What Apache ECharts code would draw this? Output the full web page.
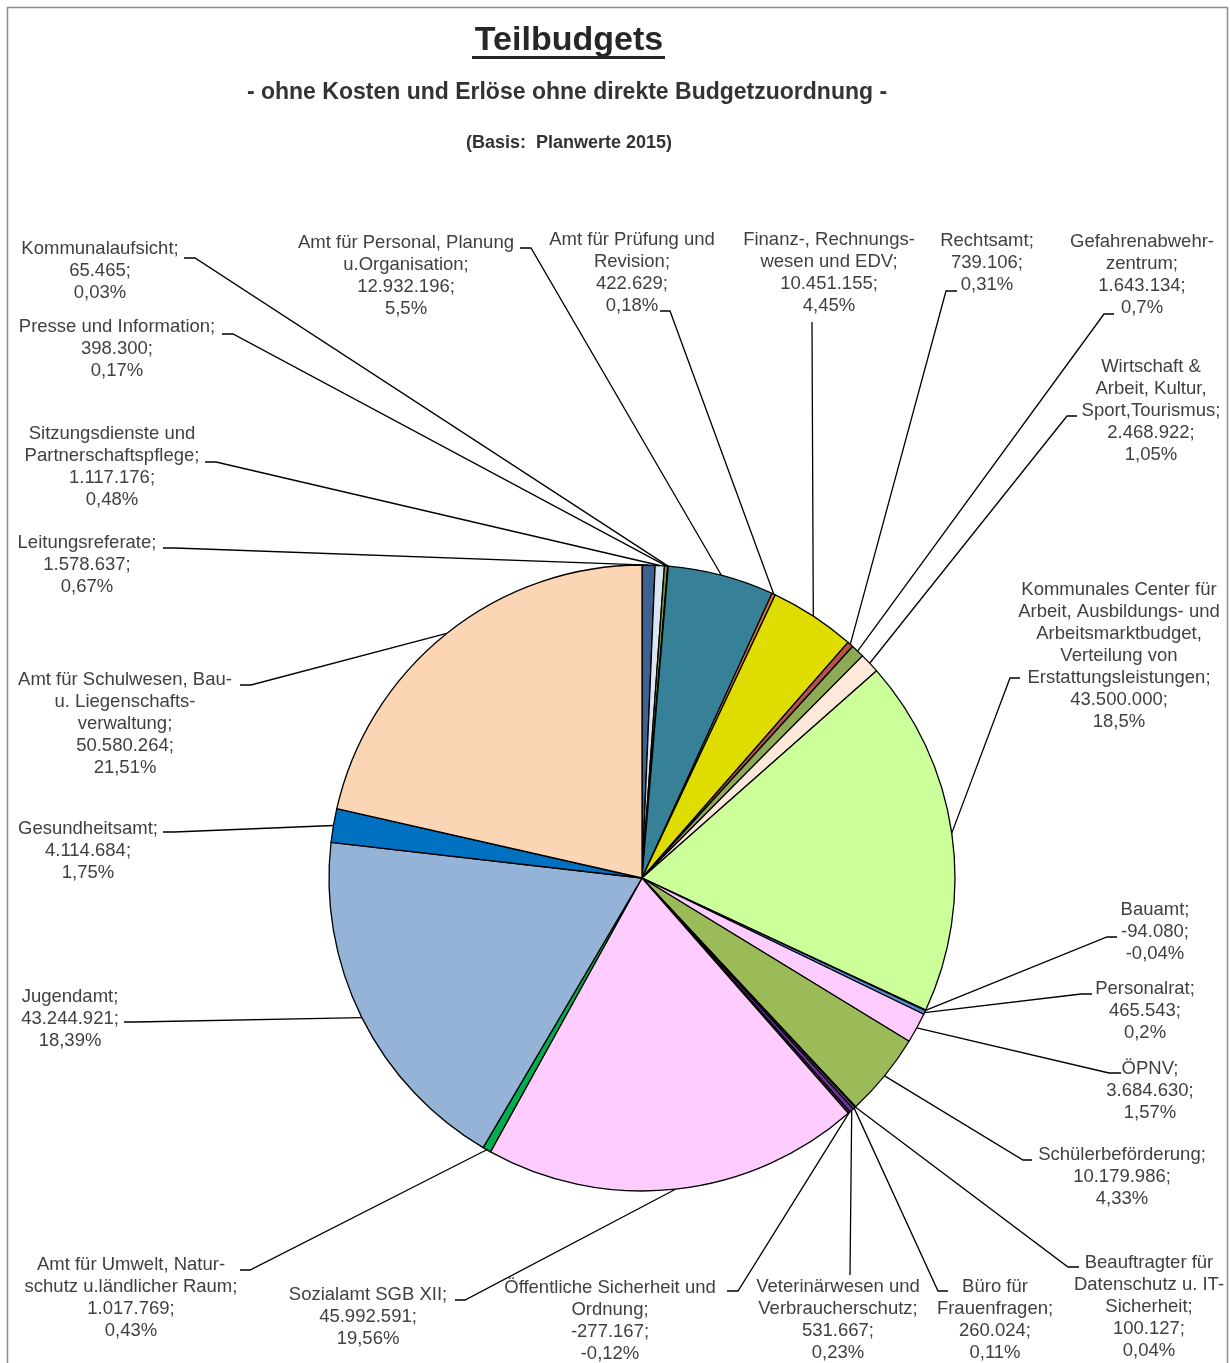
<!DOCTYPE html>
<html>
<head>
<meta charset="utf-8">
<title>Teilbudgets</title>
<script src="https://cdn.jsdelivr.net/npm/echarts@6/dist/echarts.min.js"></script>
<style>
  html, body { margin: 0; padding: 0; background: #ffffff; }
  #chart { width: 1230px; height: 1363px; }
</style>
</head>
<body>
<div id="chart"></div>
<script>
// Teilbudgets (Planwerte 2015), clockwise from 12 o'clock
const budgetNames = [
  'Leitungsreferate',
  'Sitzungsdienste und\nPartnerschaftspflege',
  'Presse und Information',
  'Kommunalaufsicht',
  'Amt für Personal, Planung\nu.Organisation',
  'Amt für Prüfung und\nRevision',
  'Finanz-, Rechnungs-\nwesen und EDV',
  'Rechtsamt',
  'Gefahrenabwehr-\nzentrum',
  'Wirtschaft &\nArbeit, Kultur,\nSport,Tourismus',
  'Kommunales Center für\nArbeit, Ausbildungs- und\nArbeitsmarktbudget,\nVerteilung von\nErstattungsleistungen',
  'Bauamt',
  'Personalrat',
  'ÖPNV',
  'Schülerbeförderung',
  'Beauftragter für\nDatenschutz u. IT-\nSicherheit',
  'Büro für\nFrauenfragen',
  'Veterinärwesen und\nVerbraucherschutz',
  'Öffentliche Sicherheit und\nOrdnung',
  'Sozialamt SGB XII',
  'Amt für Umwelt, Natur-\nschutz u.ländlicher Raum',
  'Jugendamt',
  'Gesundheitsamt',
  'Amt für Schulwesen, Bau-\nu. Liegenschafts-\nverwaltung'
];

const budgetValues = [
  1578637, 1117176, 398300, 65465, 12932196, 422629, 10451155, 739106,
  1643134, 2468922, 43500000, -94080, 465543, 3684630, 10179986, 100127,
  260024, 531667, -277167, 45992591, 1017769, 43244921, 4114684, 50580264
];

const sliceColors = [
  '#3C6190', '#DCE6F2', '#77933C', '#4F6228', '#368197', '#D07A30',
  '#DFDC00', '#B8504B', '#8FAA55', '#FDE9D9', '#CCFF99', '#17375E',
  '#558ED5', '#FFCCFF', '#9BBB59', '#4BACC6', '#7F7F7F', '#7030A0',
  '#403152', '#FFCCFF', '#00B050', '#95B3D7', '#0070C0', '#FCD5B5'
];

// label box: [centre x, top y], leader: [end x, end y, elbow x, elbow y]
const labelBoxes = [
  [87, 532], [112, 423], [117, 316], [100, 238], [406, 232], [632, 229],
  [829, 229], [987, 230], [1142, 231], [1151, 356], [1119, 579], [1155, 899],
  [1145, 978], [1150, 1058], [1122, 1144], [1149, 1252], [995, 1276], [838, 1276],
  [610, 1277], [368, 1284], [131, 1254], [70, 986], [88, 818], [125, 669]
];
const leaderEnds = [
  [163, 548, 175, 548], [205, 462, 216, 462], [222, 334, 233, 334], [184, 258, 195, 258],
  [520, 248, 531, 248], [660, 311, 670, 311], [812, 322, 812, 324], [957, 291, 946, 291],
  [1114, 314, 1104, 314], [1077, 416, 1067, 416], [1020, 678, 1010, 678], [1117, 937, 1107, 937],
  [1092, 994, 1081, 994], [1121, 1073, 1109, 1073], [1032, 1160, 1023, 1160], [1079, 1267, 1068, 1267],
  [948, 1291, 938, 1291], [850, 1273, 850, 1275], [727, 1291, 738, 1291], [455, 1300, 465, 1300],
  [240, 1270, 250, 1270], [124, 1022, 135, 1022], [163, 832, 174, 832], [240, 685, 251, 685]
];

const signedTotal = budgetValues.reduce((s, v) => s + v, 0);

function formatAmount(v) {
  const digits = String(Math.abs(v)).replace(/\B(?=(\d{3})+(?!\d))/g, '.');
  return (v < 0 ? '-' : '') + digits;
}
function formatShare(v) {
  const pct = parseFloat((v / signedTotal * 100).toFixed(2));
  return String(pct).replace('.', ',') + '%';
}

const pieData = budgetValues.map((v, i) => ({
  name: budgetNames[i],
  value: Math.abs(v),
  itemStyle: { color: sliceColors[i] }
}));

const chart = echarts.init(document.getElementById('chart'), null, { renderer: 'canvas' });

chart.setOption({
  backgroundColor: '#ffffff',
  animation: false,
  graphic: [
    {
      type: 'rect', silent: true, z: -10,
      shape: { x: 7.5, y: 7.5, width: 1220, height: 1400 },
      style: { fill: 'none', stroke: '#8c8c8c', lineWidth: 1.5 }
    },
    {
      type: 'text', x: 569, y: 41,
      style: {
        text: 'Teilbudgets', align: 'center', verticalAlign: 'middle',
        font: 'bold 34px "Liberation Sans", Arial, sans-serif', fill: '#262626'
      }
    },
    {
      type: 'line', silent: true,
      shape: { x1: 472, y1: 57.5, x2: 665, y2: 57.5 },
      style: { stroke: '#262626', lineWidth: 3 }
    },
    {
      type: 'text', x: 567, y: 93,
      style: {
        text: '- ohne Kosten und Erlöse ohne direkte Budgetzuordnung -',
        align: 'center', verticalAlign: 'middle',
        font: 'bold 23px "Liberation Sans", Arial, sans-serif', fill: '#333333'
      }
    },
    {
      type: 'text', x: 569, y: 143,
      style: {
        text: '(Basis:  Planwerte 2015)', align: 'center', verticalAlign: 'middle',
        font: 'bold 18px "Liberation Sans", Arial, sans-serif', fill: '#333333'
      }
    }
  ],
  series: [{
    type: 'pie',
    center: [642, 878],
    radius: 313,
    startAngle: 90,
    clockwise: true,
    avoidLabelOverlap: false,
    minShowLabelAngle: 0,
    data: pieData,
    itemStyle: { borderColor: '#000000', borderWidth: 1.3 },
    label: {
      show: true,
      position: 'outside',
      color: '#404040',
      fontFamily: '"Liberation Sans", Arial, sans-serif',
      fontSize: 18.5,
      lineHeight: 22,
      align: 'center',
      formatter: function (p) {
        const v = budgetValues[p.dataIndex];
        return budgetNames[p.dataIndex] + ';\n' + formatAmount(v) + ';\n' + formatShare(v);
      }
    },
    labelLine: {
      show: true,
      length: 10,
      length2: 10,
      lineStyle: { color: '#000000', width: 1.3 }
    },
    emphasis: { disabled: true },
    labelLayout: function (params) {
      const i = params.dataIndex;
      const box = labelBoxes[i];
      const lead = leaderEnds[i];
      const start = params.labelLinePoints ? params.labelLinePoints[0] : [lead[2], lead[3]];
      return {
        x: box[0],
        y: box[1],
        align: 'center',
        verticalAlign: 'top',
        labelLinePoints: [start, [lead[2], lead[3]], [lead[0], lead[1]]]
      };
    }
  }]
});
</script>
</body>
</html>
